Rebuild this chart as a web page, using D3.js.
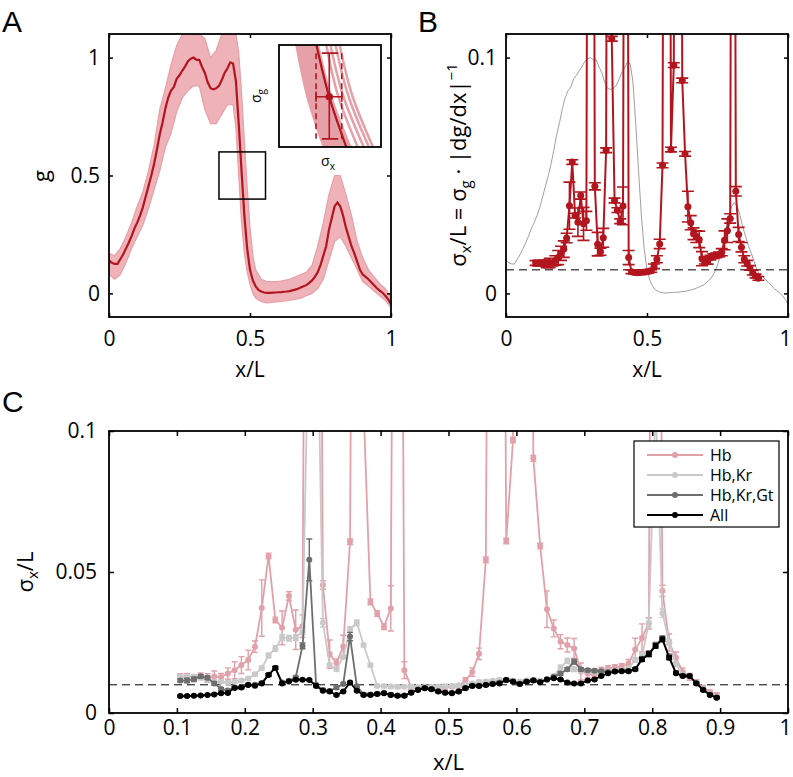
<!DOCTYPE html>
<html><head><meta charset="utf-8">
<script src="https://cdn.jsdelivr.net/npm/d3@7"></script>
<style>
body{margin:0;background:#fff;}
svg{display:block;font-family:"Open Sans","Liberation Sans",sans-serif;}
</style></head><body>
<svg id="c" width="793" height="777"></svg>
<script>
// ---------- DATA ----------
// Panel A: mean gap-gene profile g(x)
const profX = [0,0.01,0.02,0.03,0.04,0.05,0.06,0.07,0.08,0.09,0.1,0.11,0.12,0.13,0.14,0.15,0.16,0.17,0.18,0.19,0.2,0.21,0.22,0.23,0.24,0.25,0.26,0.27,0.28,0.29,0.3,0.31,0.32,0.33,0.34,0.35,0.36,0.37,0.38,0.39,0.4,0.41,0.42,0.43,0.44,0.45,0.46,0.47,0.48,0.49,0.5,0.51,0.52,0.53,0.54,0.55,0.56,0.57,0.58,0.59,0.6,0.61,0.62,0.63,0.64,0.65,0.66,0.67,0.68,0.69,0.7,0.71,0.72,0.73,0.74,0.75,0.76,0.77,0.78,0.79,0.8,0.81,0.82,0.83,0.84,0.85,0.86,0.87,0.88,0.89,0.9,0.91,0.92,0.93,0.94,0.95,0.96,0.97,0.98,0.99,1];
const gMean = [0.14,0.13,0.125,0.125,0.145,0.165,0.19,0.215,0.243,0.275,
 0.30,0.33,0.365,0.41,0.455,0.50,0.55,0.61,0.675,0.725,
 0.785,0.83,0.86,0.875,0.91,0.925,0.945,0.963,0.985,0.995,
 1.0,0.99,0.99,0.96,0.935,0.895,0.87,0.865,0.87,0.88,
 0.905,0.935,0.955,0.98,0.975,0.90,0.72,0.52,0.33,0.19,
 0.10,0.055,0.03,0.015,0.008,0.004,0.002,0.002,0.003,0.004,
 0.005,0.005,0.007,0.008,0.01,0.013,0.016,0.02,0.025,0.03,
 0.035,0.045,0.055,0.07,0.09,0.12,0.16,0.20,0.27,0.32,
 0.37,0.385,0.37,0.33,0.28,0.24,0.20,0.17,0.135,0.10,
 0.08,0.07,0.06,0.047,0.035,0.022,0.012,0.003,-0.01,-0.025,
 -0.045];
// Panel A: spread of individual embryos (envelope)
const envX = [0,0.02,0.04,0.06,0.08,0.1,0.12,0.14,0.16,0.18,0.2,0.22,0.24,0.26,0.28,0.3,0.32,0.34,0.36,0.38,0.4,0.42,0.44,0.45,0.46,0.47,0.48,0.49,0.5,0.51,0.52,0.54,0.56,0.6,0.64,0.68,0.7,0.72,0.74,0.76,0.78,0.8,0.82,0.84,0.86,0.88,0.9,0.92,0.94,0.96,0.98,1];
const gUpper = [0.17,0.16,0.19,0.24,0.30,0.37,0.43,0.52,0.63,0.78,0.87,0.97,1.05,1.1,1.1,1.1,1.1,1.08,1.0,1.03,1.1,1.1,1.1,1.1,1.02,0.85,0.65,0.45,0.28,0.16,0.10,0.06,0.05,0.05,0.06,0.08,0.09,0.12,0.20,0.30,0.42,0.50,0.50,0.42,0.33,0.22,0.15,0.10,0.07,0.04,0.02,-0.02];
const gLower = [0.08,0.06,0.08,0.13,0.19,0.24,0.29,0.36,0.44,0.52,0.62,0.68,0.77,0.83,0.86,0.88,0.88,0.78,0.72,0.72,0.76,0.80,0.80,0.70,0.50,0.30,0.17,0.09,0.04,0.0,-0.02,-0.035,-0.04,-0.035,-0.03,-0.02,-0.01,0.0,0.02,0.06,0.14,0.22,0.24,0.20,0.15,0.10,0.05,0.03,0.01,-0.01,-0.03,-0.06];
const zoomBoxX = [0.39,0.555], zoomBoxY = [0.4,0.6];
// inset schematic traces: [u at top, u at middle, u at bottom, width]
const insetTraces = [[0.19,0.30,0.47,7],[0.22,0.34,0.52,7],[0.26,0.38,0.56,7],[0.30,0.42,0.60,7],[0.34,0.46,0.65,6],[0.37,0.50,0.70,4],[0.46,0.58,0.78,2.5],[0.50,0.63,0.84,2.5],[0.55,0.68,0.89,2.5],[0.59,0.72,0.93,2.5]];
const insetMean = [0.363,0.49,0.667];
const insetPoint = [0.493,0.507];

// Panels B & C: positional error sigma_x/L
const posX = [0.105,0.115,0.125,0.135,0.145,0.155,0.165,0.175,0.185,0.195,0.205,0.215,0.225,0.235,0.245,0.255,0.265,0.275,0.285,0.295,0.305,0.315,0.325,0.335,0.345,0.355,0.365,0.375,0.385,0.395,0.405,0.415,0.425,0.435,0.445,0.455,0.465,0.475,0.485,0.495,0.505,0.515,0.525,0.535,0.545,0.555,0.565,0.575,0.585,0.595,0.605,0.615,0.625,0.635,0.645,0.655,0.665,0.675,0.685,0.695,0.705,0.715,0.725,0.735,0.745,0.755,0.765,0.775,0.785,0.795,0.805,0.815,0.825,0.835,0.845,0.855,0.865,0.875,0.885,0.895];
const sigHb = [0.0129,0.0128,0.0126,0.0130,0.0124,0.0129,0.0128,0.0140,0.0152,0.0170,
 0.0188,0.0235,0.0372,0.0557,0.0330,0.0302,0.0415,0.0295,0.0308,0.5,
 0.5,0.0454,0.0209,0.0177,0.0236,0.0607,0.5,0.108,0.0394,0.0353,
 0.0306,0.0371,0.5,0.0152,0.0092,0.0089,0.0088,0.0089,0.0090,0.0091,
 0.0093,0.0096,0.0115,0.0145,0.0210,0.0543,0.5,0.5,0.0610,0.0968,
 0.5,0.5,0.0903,0.0592,0.0368,0.0300,0.0253,0.0241,0.0229,0.0147,
 0.0140,0.0134,0.0152,0.0158,0.0161,0.0165,0.0175,0.0225,0.0266,0.0318,
 0.5,0.0433,0.0250,0.0196,0.0145,0.0128,0.0108,0.0088,0.0074,0.0064];
const errHb = [0.0010,0.0012,0.0010,0.0012,0.0015,0.0020,0.0012,0.0020,0.0030,0.0030,
 0.0035,0.0020,0.0100,0.0010,0.0010,0.0060,0.0015,0.0070,0.0040,0,
 0,0.0015,0.0050,0.0015,0.0040,0.0010,0,0.0010,0.0010,0.0010,
 0.0010,0.0080,0,0.0030,0.0008,0.0005,0.0005,0.0005,0.0005,0.0005,
 0.0005,0.0006,0.0010,0.0015,0.0020,0.0010,0,0,0.0010,0.0010,
 0,0,0.0010,0.0010,0.0065,0.0030,0.0025,0.0025,0.0035,0.0030,
 0.0015,0.0010,0.0010,0.0010,0.0010,0.0010,0.0015,0.0040,0.0050,0.0020,
 0,0.0020,0.0030,0.0020,0.0015,0.0012,0.0010,0.0010,0.0008,0.0008];
const sigHbKr = [0.0129,0.0129,0.0129,0.0125,0.0118,0.0111,0.0111,0.0108,0.0111,0.0115,
 0.0122,0.0137,0.0160,0.0204,0.0229,0.0268,0.0265,0.0268,0.0288,0.15,
 0.17,0.0320,0.0170,0.0155,0.0199,0.0296,0.0320,0.0241,0.0170,0.0096,
 0.0095,0.0094,0.0093,0.0093,0.0093,0.0092,0.0092,0.0093,0.0094,0.0095,
 0.0096,0.0098,0.0100,0.0105,0.0110,0.0112,0.0114,0.0117,0.0118,0.0115,
 0.0112,0.0115,0.0117,0.0115,0.0119,0.0131,0.0161,0.0185,0.0155,0.0150,
 0.0148,0.0146,0.0146,0.0148,0.0150,0.0152,0.0158,0.0188,0.0200,0.0320,
 0.11,0.0354,0.0252,0.0174,0.0135,0.0130,0.0106,0.0085,0.0068,0.0058];
const errHbKr = [0.0006,0.0006,0.0006,0.0006,0.0006,0.0006,0.0006,0.0006,0.0006,0.0006,
 0.0006,0.0006,0.0006,0.0008,0.0010,0.0010,0.0010,0.0010,0.0010,0.0020,
 0.0020,0.0015,0.0006,0.0006,0.0006,0.0010,0.0010,0.0006,0.0006,0.0006,
 0.0006,0.0006,0.0006,0.0006,0.0006,0.0006,0.0006,0.0006,0.0006,0.0006,
 0.0006,0.0006,0.0006,0.0006,0.0006,0.0006,0.0006,0.0006,0.0006,0.0006,
 0.0006,0.0006,0.0006,0.0006,0.0006,0.0006,0.0008,0.0008,0.0008,0.0006,
 0.0006,0.0006,0.0006,0.0006,0.0006,0.0006,0.0006,0.0008,0.0010,0.0015,
 0.0020,0.0015,0.0010,0.0008,0.0006,0.0006,0.0006,0.0006,0.0006,0.0006];
const sigHbKrGt = [0.0115,0.0115,0.0120,0.0130,0.0125,0.0105,0.0085,0.0080,0.0090,0.0092,
 0.0100,0.0100,0.0106,0.0136,0.0160,0.0108,0.0114,0.0126,0.0238,0.0543,
 0.0100,0.0082,0.0078,0.0090,0.0103,0.0271,0.0095,0.0066,0.0066,0.0068,
 0.0071,0.0065,0.0062,0.0062,0.0073,0.0083,0.0089,0.0085,0.0077,0.0073,
 0.0071,0.0077,0.0089,0.0097,0.0097,0.0100,0.0104,0.0107,0.0117,0.0112,
 0.0104,0.0112,0.0116,0.0110,0.0120,0.0128,0.0140,0.0155,0.0182,0.0155,
 0.0152,0.0150,0.0148,0.0145,0.0148,0.0149,0.0149,0.0156,0.0192,0.0212,
 0.0242,0.0265,0.0200,0.0143,0.0132,0.0132,0.0106,0.0083,0.0065,0.0055];
const errHbKrGt = [0.0006,0.0008,0.0008,0.0006,0.0006,0.0006,0.0005,0.0005,0.0005,0.0005,
 0.0005,0.0005,0.0005,0.0005,0.0005,0.0005,0.0005,0.0005,0.0010,0.0074,
 0.0005,0.0005,0.0005,0.0005,0.0005,0.0015,0.0005,0.0005,0.0005,0.0005,
 0.0005,0.0005,0.0005,0.0005,0.0005,0.0005,0.0005,0.0005,0.0005,0.0005,
 0.0005,0.0005,0.0005,0.0005,0.0005,0.0005,0.0005,0.0005,0.0005,0.0005,
 0.0005,0.0005,0.0005,0.0005,0.0005,0.0005,0.0006,0.0006,0.0008,0.0006,
 0.0005,0.0005,0.0005,0.0005,0.0005,0.0005,0.0005,0.0005,0.0008,0.0008,
 0.0008,0.0008,0.0008,0.0006,0.0005,0.0005,0.0005,0.0005,0.0005,0.0005];
const sigAll = [0.0060,0.0060,0.0061,0.0062,0.0064,0.0066,0.0070,0.0071,0.0089,0.0090,
 0.0099,0.0097,0.0105,0.0135,0.0160,0.0105,0.0112,0.0118,0.0118,0.0117,
 0.0096,0.0079,0.0076,0.0064,0.0076,0.0108,0.0079,0.0064,0.0064,0.0067,
 0.0070,0.0064,0.0061,0.0061,0.0072,0.0082,0.0088,0.0084,0.0076,0.0072,
 0.0070,0.0076,0.0088,0.0096,0.0096,0.0099,0.0103,0.0105,0.0117,0.0111,
 0.0103,0.0111,0.0115,0.0109,0.0119,0.0123,0.0119,0.0108,0.0105,0.0105,
 0.0115,0.0119,0.0131,0.0141,0.0147,0.0148,0.0148,0.0155,0.0190,0.0208,
 0.0238,0.0261,0.0196,0.0141,0.0131,0.0131,0.0105,0.0082,0.0064,0.0054];
const errAll = [0.0003,0.0003,0.0003,0.0003,0.0003,0.0003,0.0003,0.0003,0.0003,0.0003,
 0.0003,0.0003,0.0003,0.0004,0.0005,0.0003,0.0003,0.0003,0.0003,0.0003,
 0.0003,0.0003,0.0003,0.0003,0.0003,0.0004,0.0003,0.0003,0.0003,0.0003,
 0.0003,0.0003,0.0003,0.0003,0.0003,0.0003,0.0003,0.0003,0.0003,0.0003,
 0.0003,0.0003,0.0003,0.0003,0.0003,0.0003,0.0003,0.0003,0.0003,0.0003,
 0.0003,0.0003,0.0003,0.0003,0.0003,0.0003,0.0003,0.0003,0.0003,0.0003,
 0.0003,0.0003,0.0003,0.0003,0.0003,0.0003,0.0003,0.0004,0.0007,0.0008,
 0.0008,0.0008,0.0006,0.0004,0.0003,0.0003,0.0003,0.0003,0.0003,0.0003];
const threshold = 0.01;
const legendNames = ["Hb","Hb,Kr","Hb,Kr,Gt","All"];
const ticksAx = [0,0.5,1], ticksAy = [0,0.5,1];
const ticksBy = [0,0.1];
const ticksCx = [0,0.1,0.2,0.3,0.4,0.5,0.6,0.7,0.8,0.9,1];
const ticksCy = [0,0.05,0.1];

// ---------- DRAWING ----------
const svg = d3.select('#c');
svg.append('rect').attr('width',793).attr('height',777).attr('fill','#fff');
const RED = '#b3151f', PINK = '#eeb2b8', PINKEDGE = '#e6a0a8', CPINK = '#e2a1a9', LGRAY = '#c9c9c9', DGRAY = '#6e6e6e';
const FS = 21;

function clip(id, x, y) {
  svg.append('clipPath').attr('id', id).append('rect')
    .attr('x', x.range()[0]).attr('y', y.range()[1])
    .attr('width', x.range()[1]-x.range()[0]).attr('height', y.range()[0]-y.range()[1]);
}
function frame(x, y, xt, yt, tl, xpad, ypad) {
  const fmt = d => String(d);
  const gb = svg.append('g').attr('transform', `translate(0,${y.range()[0]})`)
    .call(d3.axisBottom(x).tickValues(xt).tickFormat(fmt).tickSize(-tl).tickPadding(xpad));
  const gt = svg.append('g').attr('transform', `translate(0,${y.range()[1]})`)
    .call(d3.axisTop(x).tickValues(xt).tickFormat('').tickSize(-tl));
  const gl = svg.append('g').attr('transform', `translate(${x.range()[0]},0)`)
    .call(d3.axisLeft(y).tickValues(yt).tickFormat(fmt).tickSize(-tl).tickPadding(ypad));
  const gr = svg.append('g').attr('transform', `translate(${x.range()[1]},0)`)
    .call(d3.axisRight(y).tickValues(yt).tickFormat('').tickSize(-tl));
  [gb,gt,gl,gr].forEach(g => {
    g.select('.domain').remove();
    g.selectAll('line').attr('stroke','#000').attr('stroke-width',1.5);
    g.selectAll('text').attr('font-size',FS).attr('fill','#000').attr('font-family','"Open Sans",sans-serif');
  });
  // keep the rightmost tick label inside the page edge
  if (x.range()[1] > 780) gb.selectAll('.tick').filter(d => d === 1).select('text').attr('dx', -3);
  svg.append('rect').attr('x', x.range()[0]).attr('y', y.range()[1])
    .attr('width', x.range()[1]-x.range()[0]).attr('height', y.range()[0]-y.range()[1])
    .attr('fill','none').attr('stroke','#000').attr('stroke-width',1.8);
}
function series(g, x, y, xs, ys, es, color, r, lw, cap) {
  g.append('path').datum(xs.map((d,i)=>[d,ys[i]]))
    .attr('d', d3.line().x(d=>x(d[0])).y(d=>y(d[1])))
    .attr('fill','none').attr('stroke',color).attr('stroke-width',lw);
  const eb = xs.map((d,i)=>[d,ys[i],es[i]]).filter(d=>d[2]>0);
  g.selectAll(null).data(eb).enter().append('path')
    .attr('d', d => {
      const cx = x(d[0]), y1 = y(d[1]+d[2]), y2 = y(d[1]-d[2]);
      return `M${cx-cap},${y1}H${cx+cap}M${cx},${y1}V${y2}M${cx-cap},${y2}H${cx+cap}`;
    })
    .attr('fill','none').attr('stroke',color).attr('stroke-width',lw*0.8);
  g.selectAll(null).data(xs.map((d,i)=>[d,ys[i]])).enter().append('circle')
    .attr('cx', d=>x(d[0])).attr('cy', d=>y(d[1])).attr('r', r).attr('fill',color);
}

// ===== Panel A =====
const xA = d3.scaleLinear().domain([0,1]).range([109,391]);
const yA = d3.scaleLinear().domain([-0.1,1.1]).range([317,34]);
clip('clipA', xA, yA);
const gA = svg.append('g').attr('clip-path','url(#clipA)');
const env = envX.map((d,i)=>({x:d, lo:gLower[i], hi:gUpper[i]}));
gA.append('path').datum(env)
  .attr('d', d3.area().x(d=>xA(d.x)).y0(d=>yA(d.lo)).y1(d=>yA(d.hi)))
  .attr('fill', PINK);
['hi','lo'].forEach(k => gA.append('path').datum(env)
  .attr('d', d3.line().x(d=>xA(d.x)).y(d=>yA(d[k])))
  .attr('fill','none').attr('stroke',PINKEDGE).attr('stroke-width',1.2));
gA.append('path').datum(profX.map((d,i)=>[d,gMean[i]]))
  .attr('d', d3.line().x(d=>xA(d[0])).y(d=>yA(d[1])))
  .attr('fill','none').attr('stroke',RED).attr('stroke-width',2.2);
svg.append('rect').attr('x', xA(zoomBoxX[0])).attr('y', yA(zoomBoxY[1]))
  .attr('width', xA(zoomBoxX[1])-xA(zoomBoxX[0])).attr('height', yA(zoomBoxY[0])-yA(zoomBoxY[1]))
  .attr('fill','none').attr('stroke','#000').attr('stroke-width',1.5);
frame(xA, yA, ticksAx, ticksAy, 4, 14, 9);
// inset
const uI = d3.scaleLinear().domain([0,1]).range([279,381]);
const wI = d3.scaleLinear().domain([0,1]).range([45,147]);
svg.append('clipPath').attr('id','clipI').append('rect').attr('x',279).attr('y',45).attr('width',102).attr('height',102);
svg.append('rect').attr('x',279).attr('y',45).attr('width',102).attr('height',102).attr('fill','#fff');
const gI = svg.append('g').attr('clip-path','url(#clipI)');
const curveLine = d3.line().x(d=>uI(d[0])).y(d=>wI(d[1])).curve(d3.curveNatural);
insetTraces.forEach(t => gI.append('path').datum([[t[0],-0.02],[t[1],0.5],[t[2],1.02]])
  .attr('d', curveLine).attr('fill','none').attr('stroke',PINKEDGE).attr('stroke-width',t[3]));
gI.append('path').datum([[insetMean[0],-0.02],[insetMean[1],0.5],[insetMean[2],1.02]])
  .attr('d', curveLine).attr('fill','none').attr('stroke',RED).attr('stroke-width',2.2);
const eu0 = 0.363, eu1 = 0.615, ew0 = 0.08, ew1 = 0.92;
[eu0,eu1].forEach(u => gI.append('line').attr('x1',uI(u)).attr('x2',uI(u)).attr('y1',wI(ew0)).attr('y2',wI(ew1))
  .attr('stroke',RED).attr('stroke-width',1.6).attr('stroke-dasharray','6,4'));
gI.append('path').attr('d', `M${uI(0.42)},${wI(ew0)}H${uI(0.58)}M${uI(insetPoint[0])},${wI(ew0)}V${wI(ew1)}M${uI(0.42)},${wI(ew1)}H${uI(0.58)}`)
  .attr('fill','none').attr('stroke',RED).attr('stroke-width',1.6);
gI.append('path').attr('d', `M${uI(eu0)},${wI(insetPoint[1])}H${uI(eu1)}M${uI(eu0)},${wI(insetPoint[1]-0.05)}V${wI(insetPoint[1]+0.05)}M${uI(eu1)},${wI(insetPoint[1]-0.05)}V${wI(insetPoint[1]+0.05)}`)
  .attr('fill','none').attr('stroke',RED).attr('stroke-width',1.6);
gI.append('circle').attr('cx',uI(insetPoint[0])).attr('cy',wI(insetPoint[1])).attr('r',3.8).attr('fill',RED);
svg.append('rect').attr('x',279).attr('y',45).attr('width',102).attr('height',102).attr('fill','none').attr('stroke','#000').attr('stroke-width',1.8);
const sg = svg.append('text').attr('transform','translate(261,96) rotate(-90)').attr('text-anchor','middle').attr('font-size',14);
sg.append('tspan').text('σ'); sg.append('tspan').attr('font-size',10).attr('dy',4).text('g');
const sx = svg.append('text').attr('x',328).attr('y',166).attr('text-anchor','middle').attr('font-size',14);
sx.append('tspan').text('σ'); sx.append('tspan').attr('font-size',10).attr('dy',4).text('x');
svg.append('text').attr('transform','translate(49,176) rotate(-90)').attr('text-anchor','middle').attr('font-size',22).text('g');
svg.append('text').attr('x',250).attr('y',377).attr('text-anchor','middle').attr('font-size',21).text('x/L');
svg.append('text').attr('x',2).attr('y',32).attr('font-size',30).attr('font-family','"Liberation Sans",Arial,sans-serif').text('A');

// ===== Panel B =====
const xB = d3.scaleLinear().domain([0,1]).range([506,788]);
const yB = d3.scaleLinear().domain([-0.01,0.11]).range([317,34]);
const yBg = d3.scaleLinear().domain([-0.1,1.1]).range([317,34]);
clip('clipB', xB, yB);
const gB = svg.append('g').attr('clip-path','url(#clipB)');
gB.append('path').datum(profX.map((d,i)=>[d,gMean[i]]))
  .attr('d', d3.line().x(d=>xB(d[0])).y(d=>yBg(d[1])))
  .attr('fill','none').attr('stroke','#a0a0a0').attr('stroke-width',1);
gB.append('line').attr('x1',xB(0)).attr('x2',xB(1)).attr('y1',yB(threshold)).attr('y2',yB(threshold))
  .attr('stroke','#000').attr('stroke-width',1).attr('stroke-dasharray','8,5');
series(gB, xB, yB, posX, sigHb, errHb, RED, 3.5, 2, 6);
frame(xB, yB, ticksAx, ticksBy, 4, 14, 9);
const yl = svg.append('text').attr('transform','translate(466,165) rotate(-90)').attr('text-anchor','middle').attr('font-size',22);
yl.append('tspan').text('σ');
yl.append('tspan').attr('font-size',15).attr('dy',5).text('x');
yl.append('tspan').attr('dy',-5).text('/L = σ');
yl.append('tspan').attr('font-size',15).attr('dy',5).text('g');
yl.append('tspan').attr('dy',-5).text(' · |dg/dx|');
yl.append('tspan').attr('font-size',15).attr('dy',-9).text('−1');
svg.append('text').attr('x',647).attr('y',377).attr('text-anchor','middle').attr('font-size',21).text('x/L');
svg.append('text').attr('x',418).attr('y',32).attr('font-size',30).attr('font-family','"Liberation Sans",Arial,sans-serif').text('B');

// ===== Panel C =====
const xC = d3.scaleLinear().domain([0,1]).range([109,788]);
const yC = d3.scaleLinear().domain([0,0.1]).range([713,431]);
clip('clipC', xC, yC);
const gC = svg.append('g').attr('clip-path','url(#clipC)');
gC.append('line').attr('x1',xC(0)).attr('x2',xC(1)).attr('y1',yC(threshold)).attr('y2',yC(threshold))
  .attr('stroke','#000').attr('stroke-width',1).attr('stroke-dasharray','8,5');
series(gC, xC, yC, posX, sigHb, errHb, CPINK, 3, 1.8, 3);
series(gC, xC, yC, posX, sigHbKr, errHbKr, LGRAY, 3, 1.8, 3);
series(gC, xC, yC, posX, sigHbKrGt, errHbKrGt, DGRAY, 3, 1.8, 3);
series(gC, xC, yC, posX, sigAll, errAll, '#000', 3, 1.8, 3);
frame(xC, yC, ticksCx, ticksCy, 5, 7, 12);
const cl = svg.append('text').attr('transform','translate(33,572) rotate(-90)').attr('text-anchor','middle').attr('font-size',22);
cl.append('tspan').text('σ'); cl.append('tspan').attr('font-size',15).attr('dy',5).text('x'); cl.append('tspan').attr('dy',-5).text('/L');
svg.append('text').attr('x',xC(0.5)).attr('y',770).attr('text-anchor','middle').attr('font-size',22).text('x/L');
svg.append('text').attr('x',2).attr('y',412).attr('font-size',30).attr('font-family','"Liberation Sans",Arial,sans-serif').text('C');
// legend
const leg = svg.append('g');
leg.append('rect').attr('x',634).attr('y',441).attr('width',145).attr('height',86).attr('fill','#fff').attr('stroke','#000').attr('stroke-width',1.2);
const legColors = [CPINK, LGRAY, DGRAY, '#000'];
legendNames.forEach((n,i) => {
  const yy = 455 + i*20;
  leg.append('line').attr('x1',647).attr('x2',703).attr('y1',yy).attr('y2',yy).attr('stroke',legColors[i]).attr('stroke-width',1.8);
  leg.append('circle').attr('cx',675).attr('cy',yy).attr('r',3).attr('fill',legColors[i]);
  leg.append('text').attr('x',710).attr('y',yy+5.5).attr('font-size',16).text(n);
});
</script></body></html>
